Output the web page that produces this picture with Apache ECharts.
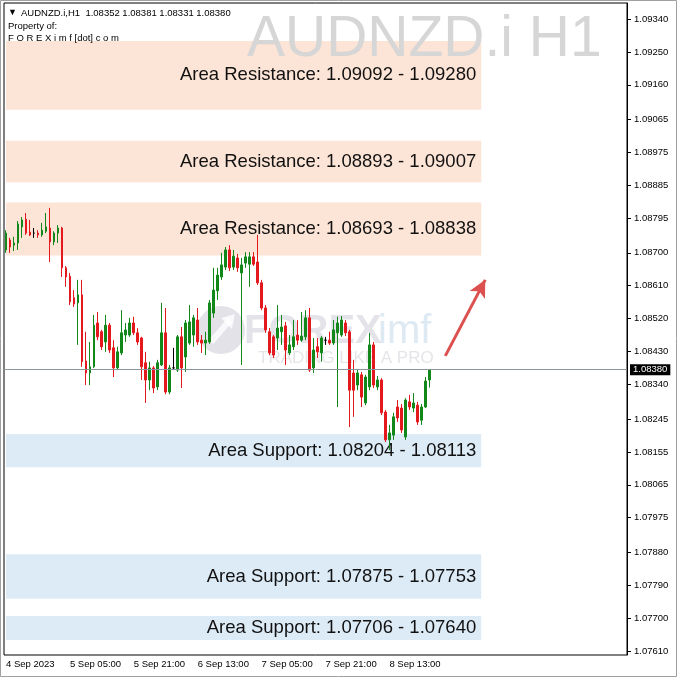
<!DOCTYPE html>
<html>
<head>
<meta charset="utf-8">
<script src="https://cdn.jsdelivr.net/npm/echarts/dist/echarts.min.js"></script>
<style>
html,body{margin:0;padding:0;background:#fff;}
#chart{width:678px;height:678px;}
</style>
</head>
<body>
<div id="chart"></div>
<script>
// ---- data ----
const symbolTitle = 'AUDNZD.i,H1';
const lastBar = [1.08352, 1.08381, 1.08331, 1.08380]; // O H L C (header)
const currentPrice = 1.08380;
const slotCount = 156; // bar slots on the time axis (incl. empty right shift)
const categories = Array.from({length: slotCount}, (_, i) => i);
const xTickLabels = ['4 Sep 2023', '5 Sep 05:00', '5 Sep 21:00', '6 Sep 13:00', '7 Sep 05:00', '7 Sep 21:00', '8 Sep 13:00'];
const barsPerXTick = 16;
const yTickValues = [1.07610, 1.07700, 1.07790, 1.07880, 1.07975, 1.08065, 1.08155, 1.08245, 1.08340, 1.08430,
  1.08520, 1.08610, 1.08700, 1.08795, 1.08885, 1.08975, 1.09065, 1.09160, 1.09250, 1.09340];
const yMin = 1.07599, yMax = 1.09384;

// [open, close, low, high]
const ohlc = [
  [1.08708,1.08754,1.08700,1.08762],[1.08735,1.08716,1.08700,1.08741],[1.08721,1.08727,1.08705,1.08744],
  [1.08727,1.08779,1.08708,1.08787],[1.08771,1.08790,1.08741,1.08798],[1.08792,1.08754,1.08749,1.08809],
  [1.08757,1.08749,1.08746,1.08790],[1.08754,1.08754,1.08741,1.08768],[1.08754,1.08749,1.08741,1.08762],
  [1.08749,1.08762,1.08744,1.08782],[1.08759,1.08771,1.08754,1.08809],[1.08768,1.08730,1.08675,1.08823],
  [1.08730,1.08754,1.08721,1.08759],[1.08754,1.08768,1.08727,1.08776],[1.08768,1.08659,1.08634,1.08771],
  [1.08659,1.08634,1.08607,1.08664],[1.08636,1.08566,1.08557,1.08645],[1.08577,1.08560,1.08552,1.08598],
  [1.08563,1.08585,1.08448,1.08626],[1.08585,1.08402,1.08388,1.08626],[1.08404,1.08371,1.08338,1.08484],
  [1.08371,1.08388,1.08338,1.08456],[1.08388,1.08502,1.08385,1.08530],[1.08508,1.08470,1.08461,1.08538],
  [1.08484,1.08443,1.08434,1.08489],[1.08456,1.08502,1.08429,1.08530],[1.08502,1.08434,1.08426,1.08508],
  [1.08440,1.08385,1.08360,1.08461],[1.08385,1.08429,1.08379,1.08443],[1.08426,1.08481,1.08420,1.08543],
  [1.08475,1.08489,1.08456,1.08508],[1.08475,1.08508,1.08470,1.08522],[1.08508,1.08481,1.08475,1.08525],
  [1.08481,1.08456,1.08448,1.08494],[1.08467,1.08388,1.08352,1.08470],[1.08399,1.08352,1.08289,1.08429],
  [1.08352,1.08385,1.08324,1.08402],[1.08385,1.08330,1.08316,1.08390],[1.08333,1.08399,1.08324,1.08407],
  [1.08393,1.08481,1.08390,1.08563],[1.08481,1.08319,1.08313,1.08549],[1.08319,1.08385,1.08313,1.08393],
  [1.08385,1.08385,1.08379,1.08440],[1.08379,1.08470,1.08374,1.08475],[1.08470,1.08385,1.08330,1.08497],
  [1.08415,1.08508,1.08374,1.08516],[1.08453,1.08511,1.08448,1.08557],[1.08475,1.08522,1.08443,1.08530],
  [1.08516,1.08456,1.08448,1.08549],[1.08461,1.08453,1.08426,1.08475],[1.08453,1.08461,1.08420,1.08484],
  [1.08456,1.08563,1.08451,1.08571],[1.08535,1.08598,1.08522,1.08659],[1.08596,1.08639,1.08571,1.08659],
  [1.08634,1.08667,1.08626,1.08700],[1.08661,1.08708,1.08653,1.08716],[1.08708,1.08659,1.08650,1.08721],
  [1.08661,1.08691,1.08653,1.08708],[1.08686,1.08659,1.08648,1.08697],[1.08645,1.08667,1.08393,1.08686],
  [1.08672,1.08689,1.08659,1.08702],[1.08669,1.08689,1.08607,1.08702],[1.08689,1.08669,1.08664,1.08702],
  [1.08675,1.08618,1.08612,1.08749],[1.08618,1.08549,1.08543,1.08626],[1.08549,1.08489,1.08481,1.08557],
  [1.08484,1.08426,1.08420,1.08494],[1.08470,1.08420,1.08412,1.08475],[1.08467,1.08494,1.08434,1.08557],
  [1.08484,1.08497,1.08448,1.08530],[1.08500,1.08434,1.08393,1.08511],[1.08426,1.08448,1.08420,1.08475],
  [1.08443,1.08470,1.08434,1.08516],[1.08475,1.08461,1.08448,1.08516],[1.08461,1.08472,1.08456,1.08538],
  [1.08470,1.08522,1.08461,1.08543],[1.08522,1.08379,1.08374,1.08549],[1.08385,1.08434,1.08371,1.08467],
  [1.08443,1.08429,1.08412,1.08467],[1.08426,1.08467,1.08402,1.08472],[1.08461,1.08461,1.08448,1.08470],
  [1.08461,1.08453,1.08448,1.08484],[1.08453,1.08489,1.08448,1.08516],[1.08481,1.08508,1.08278,1.08525],
  [1.08475,1.08516,1.08470,1.08527],[1.08508,1.08481,1.08472,1.08516],[1.08484,1.08324,1.08223,1.08489],
  [1.08371,1.08324,1.08251,1.08407],[1.08338,1.08371,1.08324,1.08379],[1.08366,1.08305,1.08278,1.08374],
  [1.08289,1.08360,1.08283,1.08366],[1.08333,1.08448,1.08324,1.08481],[1.08448,1.08338,1.08330,1.08456],
  [1.08333,1.08352,1.08324,1.08363],[1.08352,1.08262,1.08256,1.08357],[1.08264,1.08188,1.08182,1.08270],
  [1.08188,1.08207,1.08160,1.08229],[1.08201,1.08251,1.08188,1.08262],[1.08278,1.08248,1.08237,1.08297],
  [1.08275,1.08215,1.08207,1.08286],[1.08196,1.08297,1.08188,1.08302],[1.08292,1.08278,1.08270,1.08311],
  [1.08275,1.08289,1.08264,1.08316],[1.08283,1.08237,1.08229,1.08292],[1.08242,1.08278,1.08229,1.08286],
  [1.08278,1.08349,1.08275,1.08360],[1.08352,1.08380,1.08331,1.08381]
];

const resistanceZones = [[1.09092, 1.09280], [1.08893, 1.09007], [1.08693, 1.08838]];
const supportZones = [[1.08204, 1.08113], [1.07875, 1.07753], [1.07706, 1.07640]];
const zoneStartSlot = 0, zoneEndSlot = 119;
const arrowFrom = [110, 1.08418];
const arrowTo = [120, 1.08626];

// ---- styling ----
const FONT = 'Liberation Sans, Arial, sans-serif';
const RES_COLOR = '#fce4d6';
const SUP_COLOR = '#ddebf7';

function zoneItems(zones, title, color) {
  return zones.map(([a, b]) => [
    { name: title + ': ' + a.toFixed(5) + ' - ' + b.toFixed(5),
      xAxis: zoneStartSlot, yAxis: Math.max(a, b), itemStyle: { color: color } },
    { xAxis: zoneEndSlot, yAxis: Math.min(a, b) }
  ]);
}

const chart = echarts.init(document.getElementById('chart'), null, { renderer: 'canvas' });
chart.setOption({
  animation: false,
  backgroundColor: '#ffffff',
  grid: { left: 4, right: 51, top: 3, bottom: 23, show: true, borderColor: '#000', borderWidth: 1, backgroundColor: '#fff' },
  xAxis: {
    type: 'category',
    data: categories,
    boundaryGap: true,
    axisLine: { show: false },
    axisTick: { show: false },
    splitLine: { show: false },
    axisLabel: {
      interval: (idx) => idx % barsPerXTick === 0 && idx / barsPerXTick < xTickLabels.length,
      formatter: (v, idx) => xTickLabels[idx / barsPerXTick] || '',
      align: 'left', margin: 4, fontSize: 9.5, color: '#000', fontFamily: FONT
    }
  },
  yAxis: {
    type: 'value',
    position: 'right',
    min: yMin, max: yMax,
    scale: true,
    splitLine: { show: false },
    axisLine: { show: true, lineStyle: { color: '#000', width: 1 } },
    axisTick: { show: true, length: 4, inside: false, lineStyle: { color: '#000' }, customValues: yTickValues },
    axisLabel: { customValues: yTickValues, formatter: (v) => v.toFixed(5), margin: 7, fontSize: 9.5, color: '#000', fontFamily: FONT }
  },
  series: [{
    type: 'candlestick',
    data: ohlc,
    barWidth: 2.2,
    itemStyle: {
      color: '#12871a', color0: '#e3191e',
      borderColor: '#12871a', borderColor0: '#e3191e',
      borderColorDoji: '#000', borderWidth: 1
    },
    markArea: {
      silent: true,
      label: { show: true, position: 'insideRight', distance: 5, fontSize: 18.5, color: '#111', fontFamily: FONT },
      data: zoneItems(resistanceZones, 'Area Resistance', RES_COLOR).concat(zoneItems(supportZones, 'Area Support', SUP_COLOR))
    },
    markLine: {
      silent: true,
      animation: false,
      precision: 5,
      symbol: ['none', 'none'],
      data: [
        { yAxis: currentPrice,
          lineStyle: { color: '#8a969c', width: 1, type: 'solid' },
          label: { show: true, position: 'end', distance: 3, formatter: currentPrice.toFixed(5),
                   color: '#fff', backgroundColor: '#000', padding: [1, 3, 0, 3], fontSize: 9.5, fontFamily: FONT } },
        [
          { coord: arrowFrom, symbol: 'none', lineStyle: { color: '#dc5050', width: 3, type: 'solid' }, label: { show: false } },
          { coord: arrowTo, symbol: 'arrow', symbolSize: [13, 17] }
        ]
      ]
    }
  }],
  graphic: [
    // logo watermark (behind candles)
    { type: 'circle', z: 1, silent: true, shape: { cx: 221, cy: 330, r: 24 }, style: { fill: 'rgba(185,185,200,0.42)' } },
    { type: 'polyline', z: 1, silent: true, shape: { points: [[211, 342], [230, 320]] }, style: { stroke: 'rgba(255,255,255,0.8)', lineWidth: 6 } },
    { type: 'polygon', z: 1, silent: true, shape: { points: [[221, 318], [235, 314], [232, 329]] }, style: { fill: 'rgba(255,255,255,0.8)' } },
    { type: 'text', z: 1, silent: true, style: { text: 'FOREX', x: 244, y: 332, fontSize: 40, fontWeight: 'bold', fontFamily: FONT, fill: 'rgba(185,185,200,0.4)', verticalAlign: 'middle' } },
    { type: 'text', z: 1, silent: true, style: { text: 'imf', x: 378, y: 332, fontSize: 40, fontFamily: FONT, fill: 'rgba(170,200,225,0.4)', verticalAlign: 'middle' } },
    { type: 'text', z: 1, silent: true, style: { text: 'TRADING LIKE A PRO', x: 258, y: 358, fontSize: 17, fontFamily: FONT, fill: 'rgba(190,190,200,0.4)', verticalAlign: 'middle' } },
    // symbol watermark
    { type: 'text', z: 20, silent: true, style: { text: 'AUDNZD.i H1', x: 247, y: 40, fontSize: 57, fontFamily: FONT, fill: '#d6d6d6', verticalAlign: 'middle' } },
    // header
    { type: 'text', z: 30, silent: true, style: { text: '\u25BC', x: 8, y: 13, fontSize: 9, fontFamily: FONT, fill: '#000', verticalAlign: 'middle' } },
    { type: 'text', z: 30, silent: true, style: { text: symbolTitle + '  ' + lastBar.map(v => v.toFixed(5)).join(' '), x: 21, y: 13, fontSize: 9.5, fontFamily: FONT, fill: '#000', verticalAlign: 'middle' } },
    { type: 'text', z: 30, silent: true, style: { text: 'Property of:', x: 8, y: 26, fontSize: 9.5, fontFamily: FONT, fill: '#000', verticalAlign: 'middle' } },
    { type: 'text', z: 30, silent: true, style: { text: 'F O R E X i m f [dot] c o m', x: 8, y: 38, fontSize: 9.5, fontFamily: FONT, fill: '#000', verticalAlign: 'middle' } },
    // outer frame
    { type: 'rect', z: 30, silent: true, shape: { x: 0.5, y: 0.5, width: 676, height: 676 }, style: { fill: 'none', stroke: '#a0a0a0', lineWidth: 1 } }
  ]
});
</script>
</body>
</html>
